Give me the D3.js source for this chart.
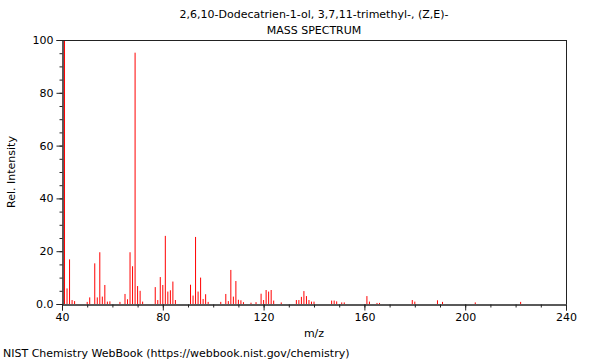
<!DOCTYPE html>
<html>
<head>
<meta charset="utf-8">
<script src="https://cdn.jsdelivr.net/npm/d3@7"></script>
<style>
  body { margin: 0; background: #fff; }
  svg { display: block; font-family: "DejaVu Sans", sans-serif; }
</style>
</head>
<body>
<svg id="chart" width="600" height="360"></svg>
<script>
const titleLines = ["2,6,10-Dodecatrien-1-ol, 3,7,11-trimethyl-, (Z,E)-", "MASS SPECTRUM"];
const xLabel = "m/z";
const yLabel = "Rel. Intensity";
const footer = "NIST Chemistry WebBook (https://webbook.nist.gov/chemistry)";

const mzValues = [41, 42, 43, 44, 45, 50, 51, 53, 54, 55, 56, 57, 58, 59, 63, 65, 66, 67, 68, 69, 70, 71, 72,
  77, 78, 79, 80, 81, 82, 83, 84, 85, 91, 92, 93, 94, 95, 96, 97, 98, 103, 105, 106, 107, 108, 109, 110,
  111, 112, 115, 117, 119, 120, 121, 122, 123, 124, 127, 133, 134, 135, 136, 137, 138, 139, 140,
  147, 148, 149, 151, 152, 161, 162, 165, 166, 179, 180, 189, 191, 204, 222];
const intensities = [100, 5.9, 16.9, 1.5, 1.1, 0.8, 2.5, 15.4, 2.5, 19.6, 2.8, 7.2, 0.9, 1.0, 0.8, 3.8, 1.8, 19.6, 14.3, 95.2, 6.8, 5.0, 0.9,
  6.4, 1.5, 10.2, 7.2, 25.8, 4.7, 5.2, 8.5, 1.5, 7.3, 3.2, 25.4, 4.7, 10.0, 1.9, 3.7, 0.8, 0.8, 3.8, 1.1, 12.9, 2.8, 8.7, 1.6,
  1.4, 0.7, 0.5, 0.7, 3.9, 1.5, 5.3, 4.7, 5.3, 1.3, 0.6, 1.5, 1.5, 2.7, 4.9, 3.0, 1.5, 0.9, 0.9,
  1.3, 1.3, 1.0, 0.6, 0.6, 3.0, 0.9, 0.4, 0.4, 1.5, 0.9, 1.4, 0.8, 0.6, 0.8];

const xMajorTicks = [40, 80, 120, 160, 200, 240];
const xMinorTicks = d3.range(40, 241, 10);
const yMajorTicks = [0, 20, 40, 60, 80, 100];
const yMinorTicks = d3.range(0, 101, 5);

const svg = d3.select("#chart");
const x = d3.scaleLinear().domain([40, 240]).range([62, 566]);
const y = d3.scaleLinear().domain([0, 100]).range([304, 40]);

// titles
svg.selectAll("text.title").data(titleLines).join("text")
  .attr("class", "title")
  .attr("x", 314).attr("y", (d, i) => 18 + i * 16)
  .attr("text-anchor", "middle")
  .attr("font-size", 11).attr("fill", "#000")
  .text(d => d);

// bars
const data = mzValues.map((m, i) => ({ m, v: intensities[i] }));
svg.append("g").selectAll("line").data(data).join("line")
  .attr("x1", d => x(d.m)).attr("x2", d => x(d.m))
  .attr("y1", y(0)).attr("y2", d => y(d.v))
  .attr("stroke", "#ff0000").attr("stroke-width", 1);

// frame
svg.append("line").attr("x1", 62).attr("x2", 566).attr("y1", 40.5).attr("y2", 40.5).attr("stroke", "#222");
svg.append("line").attr("x1", 566.5).attr("x2", 566.5).attr("y1", 40).attr("y2", 304).attr("stroke", "#222");

// x axis
const gx = svg.append("g").attr("transform", "translate(0,304.5)");
gx.call(d3.axisBottom(x).tickValues(xMinorTicks).tickSize(3).tickFormat(""));
const gx2 = svg.append("g").attr("transform", "translate(0,304.5)");
gx2.call(d3.axisBottom(x).tickValues(xMajorTicks).tickSize(6).tickPadding(3).tickFormat(d3.format("d")));
[gx, gx2].forEach(g => {
  g.select(".domain").attr("stroke", "#222");
  g.selectAll(".tick line").attr("stroke", "#222");
  g.selectAll("text").attr("font-size", 11).attr("font-family", "DejaVu Sans").attr("fill", "#000");
});

// y axis
const gy = svg.append("g").attr("transform", "translate(62.5,0)");
gy.call(d3.axisLeft(y).tickValues(yMinorTicks).tickSize(3).tickFormat(""));
const gy2 = svg.append("g").attr("transform", "translate(62.5,0)");
gy2.call(d3.axisLeft(y).tickValues(yMajorTicks).tickSize(6).tickPadding(3)
  .tickFormat(d => d === 0 ? "0.0" : String(d)));
[gy, gy2].forEach(g => {
  g.select(".domain").attr("stroke", "#222");
  g.selectAll(".tick line").attr("stroke", "#222");
  g.selectAll("text").attr("font-size", 11).attr("font-family", "DejaVu Sans").attr("fill", "#000");
});

// axis labels
svg.append("text").attr("x", 314).attr("y", 337).attr("text-anchor", "middle")
  .attr("font-size", 11).attr("fill", "#000").text(xLabel);
svg.append("text").attr("transform", "translate(15,172) rotate(-90)").attr("text-anchor", "middle")
  .attr("font-size", 11).attr("fill", "#000").text(yLabel);
svg.append("text").attr("x", 3).attr("y", 357).attr("font-size", 11).attr("fill", "#000").text(footer);
</script>
</body>
</html>
